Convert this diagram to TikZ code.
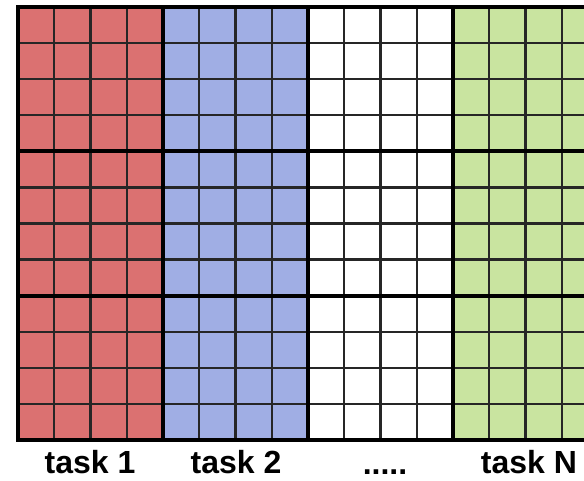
\documentclass[tikz,border=0pt]{standalone}
\usepackage{fontspec}
\setmainfont{Liberation Sans}
\usepackage{xcolor}
\usetikzlibrary{positioning}
\definecolor{taskred}{RGB}{219, 113, 113}
\definecolor{taskblue}{RGB}{160, 174, 228}
\definecolor{taskgreen}{RGB}{201, 228, 160}

\begin{document}
\begin{tikzpicture}[x=1pt, y=1pt,
        thinline/.style={line width=2.3pt, black!85},
        thickline/.style={line width=4.2pt, black},
        tasklabel/.style={font=\bfseries\fontsize{32}{32}\selectfont, anchor=base, inner sep=0pt}]
    \useasboundingbox (0,0) rectangle (584,480);
    \clip (0,0) rectangle (584,480);
    % task blocks
    \foreach \col/\fillc in {0/taskred, 1/taskblue, 2/white, 3/taskgreen}
        \fill[\fillc] (18+145*\col, 40) rectangle ++(145, 433);
    % cells
    \foreach \i in {1,...,15}
        \draw[thinline] (18+36.25*\i, 40) -- ++(0, 433);
    \foreach \j in {1,...,11}
        \draw[thinline] (18, 40+36.083*\j) -- ++(580, 0);
    % block borders
    \foreach \i in {1,2,3}
        \draw[thickline] (18+145*\i, 40) -- ++(0, 433);
    \foreach \j in {1,2}
        \draw[thickline] (18, 40+144.33*\j) -- ++(580, 0);
    \draw[thickline] (600, 473) -- (18, 473) -- (18, 40) -- (600, 40);
    % labels
    \node[tasklabel] (task1) at (90, 7) {task 1};
    \node[tasklabel] (task2) at (236, 7) {task 2};
    \node[tasklabel] (dots) at (385, 5.5) {.....};
    \node[tasklabel] (taskN) at (529, 7) {task N};
\end{tikzpicture}
\end{document}
